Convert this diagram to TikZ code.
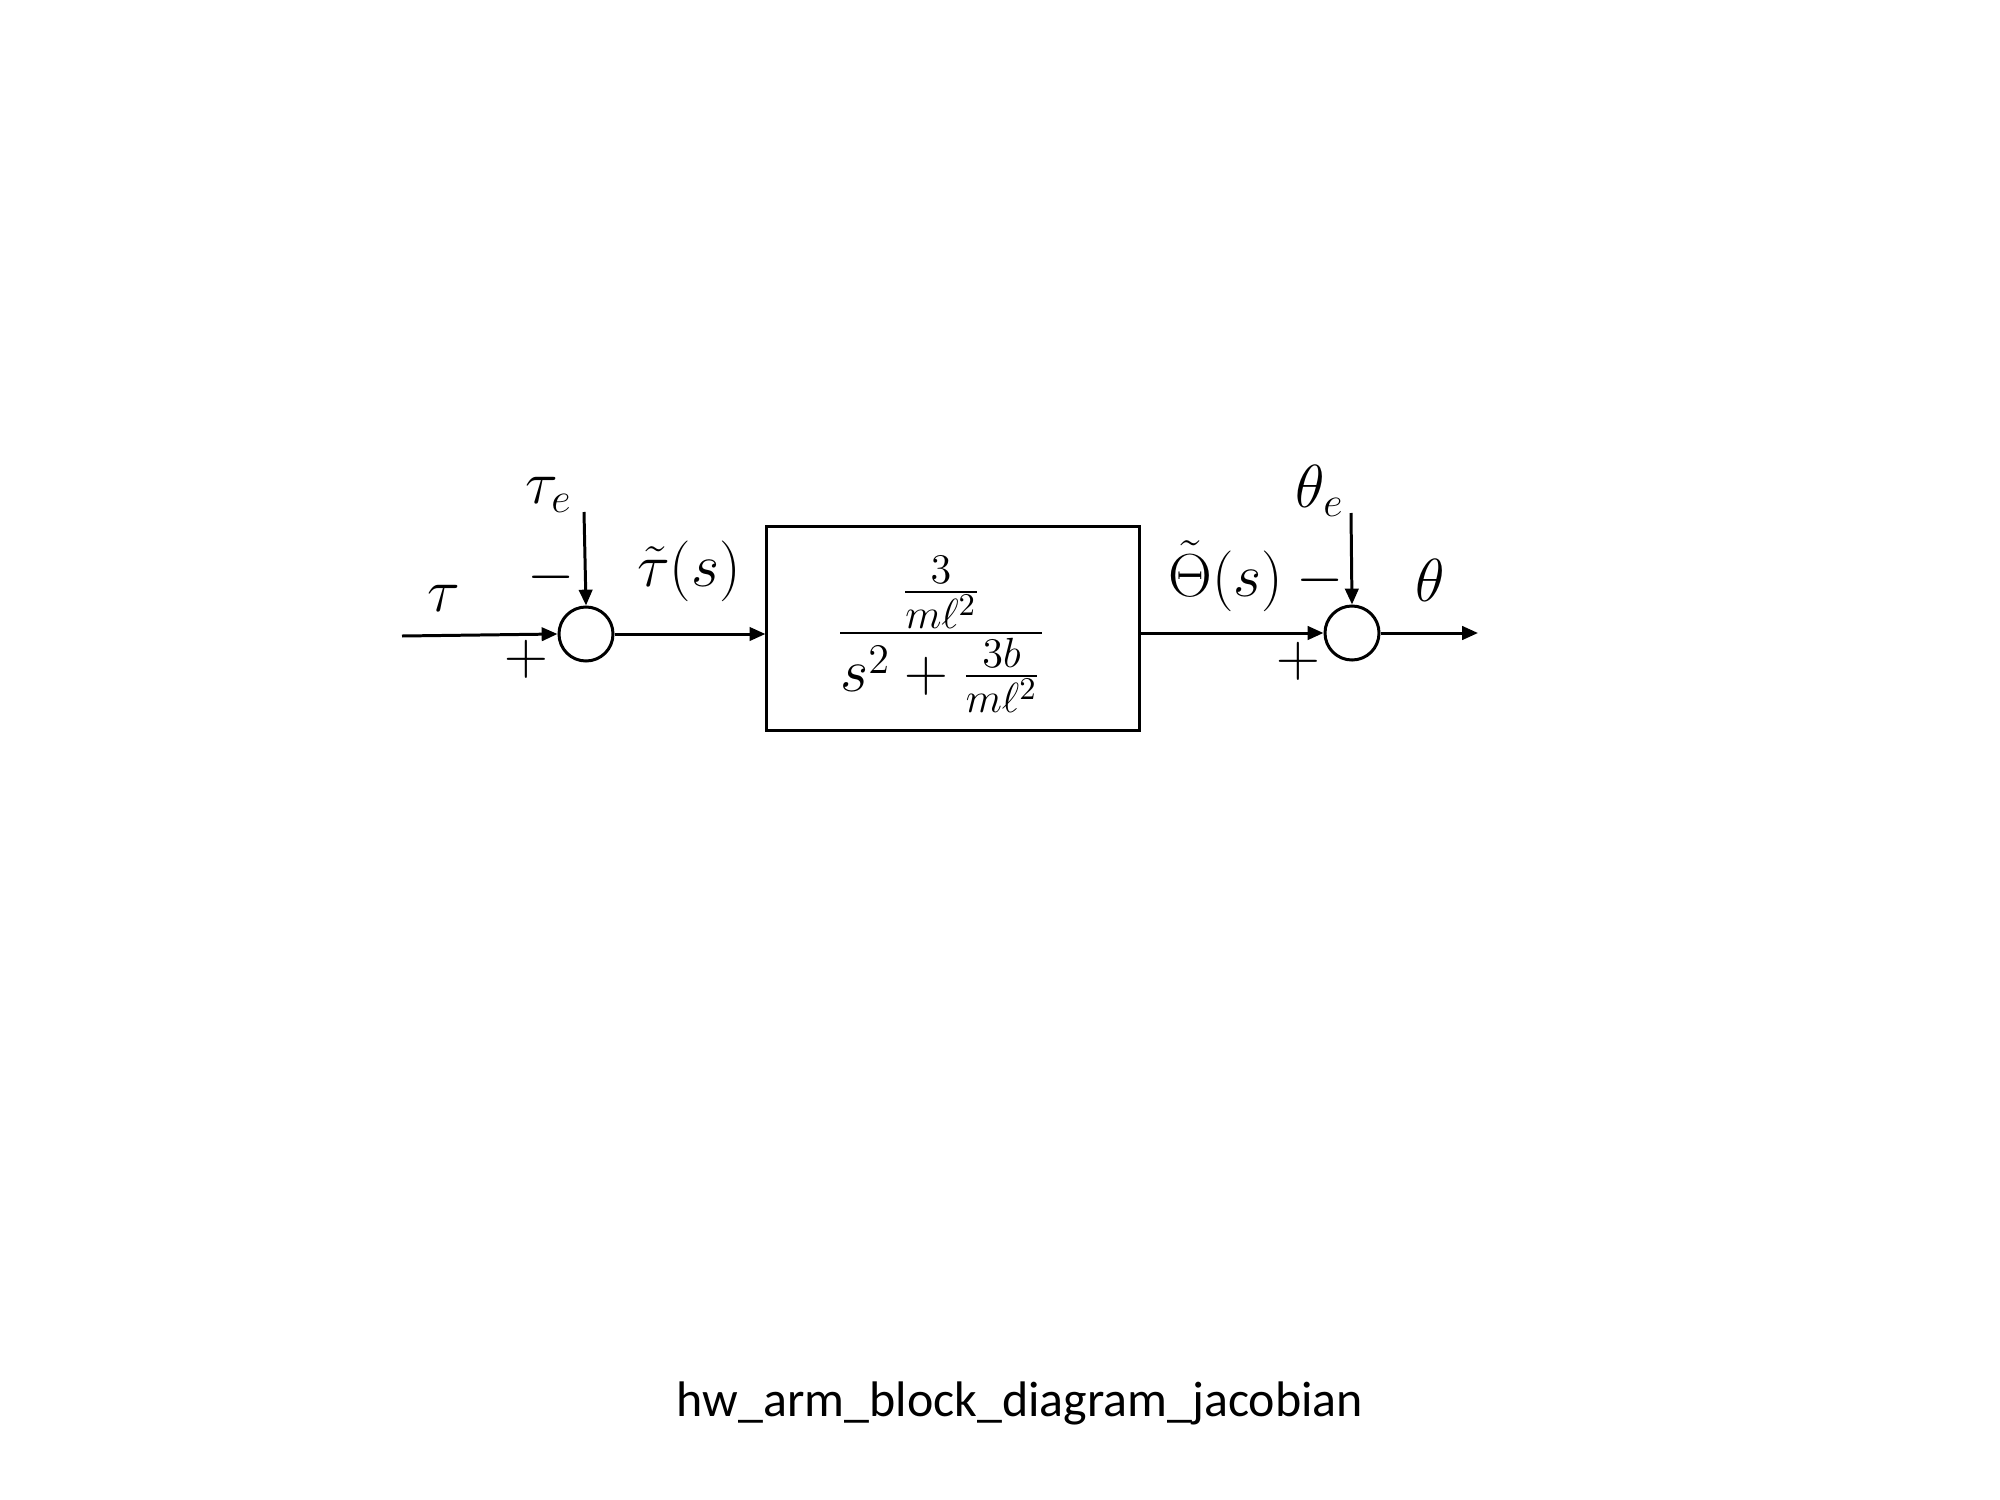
\documentclass[tikz,border=0pt]{standalone}
\usepackage{fontspec}
\newfontfamily\capfont{Carlito}
\usetikzlibrary{arrows.meta}
\begin{document}
\begin{tikzpicture}[x=0.01cm,y=-0.01cm,
  conn/.style={line width=0.85pt,-{Triangle[length=4.5pt,width=3.8pt]}},
  sumnode/.style={circle,draw,line width=0.85pt,minimum size=0.54cm,inner sep=0pt},
  blocknode/.style={draw,line width=0.85pt,minimum width=3.72cm,minimum height=2.03cm,inner sep=0pt},
  lbl/.style={inner sep=0pt,font=\fontsize{17}{20}\selectfont},
  fraclbl/.style={inner sep=0pt,font=\fontsize{18.6}{22}\selectfont},
  thlbl/.style={inner sep=0pt,font=\fontsize{16.3}{19}\selectfont}]
\useasboundingbox (0,0) rectangle (2000,1500);
\node[sumnode] (sum1) at (586,634) {};
\node[blocknode] (blk) at (953,628.5) {};
\node[fraclbl] (tf) at (941,634) {$\displaystyle\frac{\frac{3}{m\ell^2}}{s^2+\frac{3b}{m\ell^2}}$};
\node[sumnode] (sum2) at (1352,633) {};
\coordinate (in1) at (402,636);
\coordinate (te) at (584,512);
\coordinate (the) at (1351,513);
\coordinate (out) at (1478,633);
\draw[conn] (in1) -- (sum1.west);
\draw[conn] (te) -- (sum1.north);
\draw[conn] (sum1.east) -- (blk.west |- sum1.east);
\draw[conn] (blk.east |- sum2.west) -- (sum2.west);
\draw[conn] (the) -- (sum2.north);
\draw[conn] (sum2.east) -- (out);
\node[lbl] (ltau) at (444,598) {$\tau$};
\node[lbl] (ltaue) at (549,495) {$\tau_e$};
\node[lbl] (lm1) at (551,577) {$-$};
\node[lbl] (lp1) at (526,659) {$+$};
\node[lbl] (ltt) at (689,571) {$\tilde{\tau}(s)$};
\node[thlbl] (lTh) at (1226,576) {$\tilde{\Theta}(s)$};
\node[lbl] (lm2) at (1320,580) {$-$};
\node[lbl] (lthe) at (1320,491) {$\theta_e$};
\node[lbl] (lth) at (1430,580) {$\theta$};
\node[lbl] (lp2) at (1298,661) {$+$};
\node[inner sep=0pt,font=\capfont\fontsize{14.2}{17}\selectfont] (cap) at (1020,1403) {hw\_arm\_block\_diagram\_jacobian};
\end{tikzpicture}
\end{document}
